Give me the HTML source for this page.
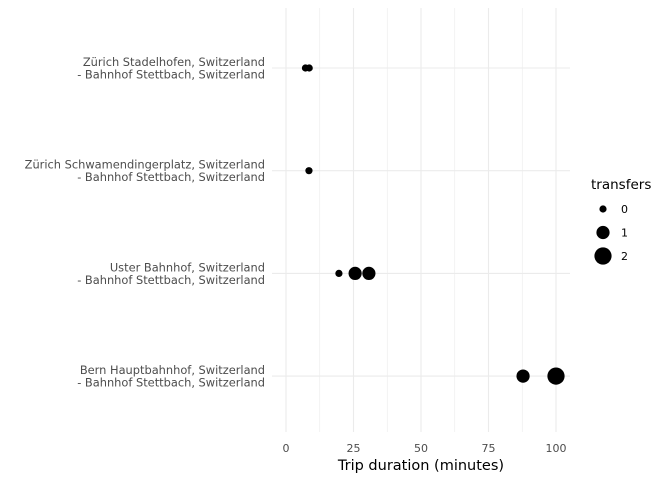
<!DOCTYPE html>
<html><head><meta charset="utf-8"><style>
body{margin:0;background:#fff;}
svg{display:block;font-family:"DejaVu Sans","Liberation Sans",sans-serif;}
</style></head><body>
<svg id="chart" width="672" height="480">
<g id="grid"></g>
<g id="ylabels"></g>
<g id="xlabels"></g>
<g id="points"></g>
<text x="421" y="470" text-anchor="middle" font-size="14.5" fill="#000">Trip duration (minutes)</text>
<g id="legend">
<text x="591" y="189" font-size="13.5" fill="#000">transfers</text>
</g>
</svg>
<script>
const routes=["Zürich Stadelhofen, Switzerland|- Bahnhof Stettbach, Switzerland","Zürich Schwamendingerplatz, Switzerland|- Bahnhof Stettbach, Switzerland","Uster Bahnhof, Switzerland|- Bahnhof Stettbach, Switzerland","Bern Hauptbahnhof, Switzerland|- Bahnhof Stettbach, Switzerland"];
const pointRoute=[0,0,1,2,2,2,3,3];
const durations=[7.2,8.6,8.5,19.6,25.6,30.7,87.8,100];
const transfers=[0,0,0,0,1,1,1,2];
const xTicks=[0,25,50,75,100];
const legendValues=[0,1,2];
const NS="http://www.w3.org/2000/svg";
const xs=v=>286+v*2.7;
const ys=i=>68+i*102.7;
const rs=t=>[3.6,6.6,8.6][t];
function mk(p,tag,a){const e=document.createElementNS(NS,tag);for(const k in a)e.setAttribute(k,a[k]);p.appendChild(e);return e;}
const grid=document.getElementById('grid');
for(let v=-12.5;v<=100;v+=12.5){if(v<-5)continue;
 const l=mk(grid,'line',{x1:xs(v),x2:xs(v),y1:8,y2:432,stroke:'#ebebeb','stroke-width':v%25===0?1.1:0.6});
 
 }
routes.forEach((r,i)=>{
 const l=mk(grid,'line',{x1:272,x2:570,y1:ys(i),y2:ys(i),stroke:'#ebebeb','stroke-width':1.1});
 
 
 const parts=r.split('|');
 const t=mk(document.getElementById('ylabels'),'text',{x:265,y:ys(i)-2,'text-anchor':'end','font-size':11.4,fill:'#4d4d4d'});
 
 
 mk(t,'tspan',{x:265,dy:0}).textContent=parts[0];
 mk(t,'tspan',{x:265,dy:12.5}).textContent=parts[1];
});
xTicks.forEach(v=>{
 const t=mk(document.getElementById('xlabels'),'text',{x:xs(v),y:452,'text-anchor':'middle','font-size':11,fill:'#4d4d4d'});
 
 
 t.textContent=v;
});
durations.forEach((d,i)=>{
 const c=mk(document.getElementById('points'),'circle',{cx:xs(d),cy:ys(pointRoute[i]),r:rs(transfers[i]),fill:'#000'});
 
 
});
legendValues.forEach((v,i)=>{
 const lg=document.getElementById('legend');
 const c=mk(lg,'circle',{cx:603,cy:209+i*23.5,r:rs(v),fill:'#000'});
 
 
 const t=mk(lg,'text',{x:621,y:213+i*23.5,'font-size':11,fill:'#000'});
 
 
 t.textContent=v;
});
</script>
</body></html>
